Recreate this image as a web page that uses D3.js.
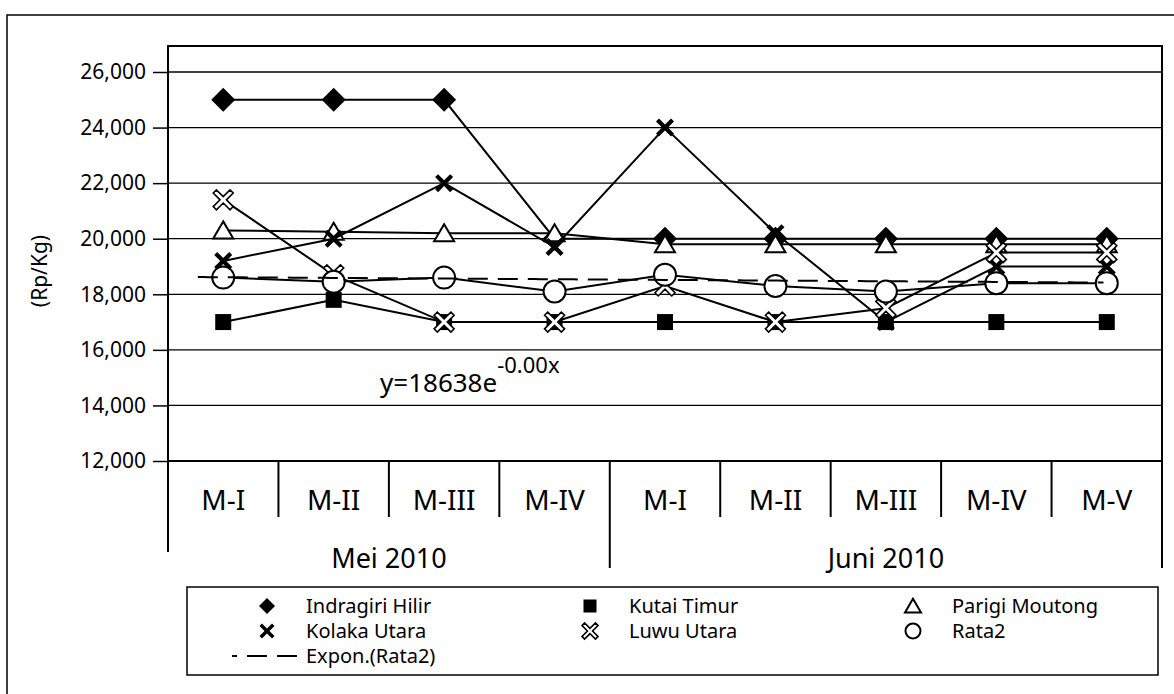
<!DOCTYPE html>
<html>
<head>
<meta charset="utf-8">
<script src="https://cdn.jsdelivr.net/npm/d3@7"></script>
<style>
  html, body { margin: 0; padding: 0; background: #fff; }
  svg { display: block; font-family: "Noto Sans", "Open Sans", sans-serif; }
</style>
</head>
<body>
<svg id="chart" width="1174" height="694"></svg>
<script>
// Weekly price observations (Rp/Kg), May–June 2010
const categories = ["M-I", "M-II", "M-III", "M-IV", "M-I", "M-II", "M-III", "M-IV", "M-V"];
const groups = [
  { name: "Mei 2010", start: 0, end: 4 },
  { name: "Juni 2010", start: 4, end: 9 }
];
const indragiriHilir = [25000, 25000, 25000, 20000, 20000, 20000, 20000, 20000, 20000];
const kutaiTimur     = [17000, 17800, 17000, 17000, 17000, 17000, 17000, 17000, 17000];
const parigiMoutong  = [20300, 20250, 20200, 20200, 19800, 19800, 19800, 19800, 19800];
const kolakaUtara    = [19200, 20000, 22000, 19700, 24000, 20200, 17000, 19000, 19000];
const luwuUtara      = [21400, 18700, 17000, 17000, 18300, 17000, 17500, 19500, 19500];
const rata2          = [18600, 18450, 18600, 18100, 18700, 18300, 18100, 18400, 18400];
const yTicks = [12000, 14000, 16000, 18000, 20000, 22000, 24000, 26000];
// Exponential trend of Rata2: y = a * e^(b x)
const trendA = 18638;
const trendB = -0.0013;

const svg = d3.select("#chart");
const plot = { left: 168, right: 1162, top: 46, bottom: 461 };

const x = d3.scaleBand().domain(d3.range(categories.length)).range([plot.left, plot.right]).padding(0);
const xc = i => x(i) + x.bandwidth() / 2;
const xNum = d3.scaleLinear().domain([0.5, categories.length + 0.5]).range([plot.left, plot.right]);
const y = d3.scaleLinear().domain([12000, 26000]).range([461, 72]);

// outer frame
svg.append("path").attr("d", "M7,700V15H1180").attr("fill", "none").attr("stroke", "#000").attr("stroke-width", 1.5);

// gridlines
svg.append("g").selectAll("line").data(yTicks.slice(1)).join("line")
  .attr("x1", plot.left).attr("x2", plot.right)
  .attr("y1", d => y(d)).attr("y2", d => y(d))
  .attr("stroke", "#000").attr("stroke-width", 1.3);

// plot frame
svg.append("rect").attr("x", plot.left).attr("y", plot.top)
  .attr("width", plot.right - plot.left).attr("height", plot.bottom - plot.top)
  .attr("fill", "none").attr("stroke", "#000").attr("stroke-width", 2);

// y axis
const yAxis = d3.axisLeft(y).tickValues(yTicks).tickFormat(d3.format(",")).tickSize(15).tickPadding(7);
const yg = svg.append("g").attr("transform", `translate(${plot.left},0)`).call(yAxis);
yg.select(".domain").remove();
yg.selectAll(".tick line").attr("stroke", "#000").attr("stroke-width", 1.5);
yg.selectAll(".tick text").attr("fill", "#000").attr("font-size", 21).attr("font-family", "Noto Sans");

svg.append("text").attr("transform", "translate(47,271) rotate(-90)")
  .attr("text-anchor", "middle").attr("font-size", 21).text("(Rp/Kg)");

// category axis (two levels)
const axisG = svg.append("g").attr("stroke", "#000").attr("stroke-width", 2);
d3.range(1, categories.length).forEach(i => {
  const isGroupEdge = groups.some(g => g.start === i);
  axisG.append("line").attr("x1", x(i)).attr("x2", x(i))
    .attr("y1", plot.bottom).attr("y2", isGroupEdge ? 568 : 517);
});
axisG.append("line").attr("x1", plot.left).attr("x2", plot.left).attr("y1", plot.bottom).attr("y2", 552);
axisG.append("line").attr("x1", plot.right).attr("x2", plot.right).attr("y1", plot.bottom).attr("y2", 568);

svg.append("g").selectAll("text").data(categories).join("text")
  .attr("x", (d, i) => xc(i)).attr("y", 510)
  .attr("text-anchor", "middle").attr("font-size", 28).text(d => d);

svg.append("g").selectAll("text").data(groups).join("text")
  .attr("x", g => (x(g.start) + x(g.end - 1) + x.bandwidth()) / 2).attr("y", 568)
  .attr("text-anchor", "middle").attr("font-size", 27).text(g => g.name);

// marker shapes
function xPath(a, t) {
  return `M${-a},${-a + t}L${-a + t},${-a}L0,${-t}L${a - t},${-a}L${a},${-a + t}L${t},0` +
         `L${a},${a - t}L${a - t},${a}L0,${t}L${-a + t},${a}L${-a},${a - t}L${-t},0Z`;
}
const markers = {
  diamond: (g, s) => g.append("path").attr("d", `M0,${-s}L${s},0L0,${s}L${-s},0Z`).attr("fill", "#000"),
  square: (g, s) => g.append("rect").attr("x", -s).attr("y", -s).attr("width", 2 * s).attr("height", 2 * s).attr("fill", "#000"),
  triangle: (g, s) => g.append("path").attr("d", `M0,${-s * 0.9}L${s},${s * 0.8}L${-s},${s * 0.8}Z`)
    .attr("fill", "#fff").attr("stroke", "#000").attr("stroke-width", 2),
  boldX: (g, s) => g.append("path").attr("d", xPath(s, s * 0.33)).attr("fill", "#000"),
  hollowX: (g, s) => g.append("path").attr("d", xPath(s, s * 0.32))
    .attr("fill", "#fff").attr("stroke", "#000").attr("stroke-width", 1.6),
  circle: (g, s) => g.append("circle").attr("r", s).attr("fill", "#fff").attr("stroke", "#000").attr("stroke-width", 2)
};

const series = [
  { name: "Indragiri Hilir", values: indragiriHilir, marker: "diamond", size: 12, legendSize: 8 },
  { name: "Kutai Timur", values: kutaiTimur, marker: "square", size: 8, legendSize: 6.5 },
  { name: "Parigi Moutong", values: parigiMoutong, marker: "triangle", size: 10, legendSize: 8 },
  { name: "Kolaka Utara", values: kolakaUtara, marker: "boldX", size: 9, legendSize: 7.5 },
  { name: "Luwu Utara", values: luwuUtara, marker: "hollowX", size: 10, legendSize: 8 },
  { name: "Rata2", values: rata2, marker: "circle", size: 11, legendSize: 7.5 }
];

const line = d3.line().x((d, i) => xc(i)).y(d => y(d));

// trendline of Rata2
const trendX = d3.range(0.77, categories.length + 0.001, 0.05);
const trendLine = d3.line().x(t => xNum(t)).y(t => y(trendA * Math.exp(trendB * t)));

series.forEach((s, k) => {
  const g = svg.append("g");
  g.append("path").attr("d", line(s.values)).attr("fill", "none")
    .attr("stroke", "#000").attr("stroke-width", 2);
  s.values.forEach((v, i) => {
    const m = g.append("g").attr("transform", `translate(${xc(i)},${y(v)})`);
    markers[s.marker](m, s.size);
  });
  if (s.name === "Rata2") {
    svg.append("path").attr("d", trendLine(trendX)).attr("fill", "none")
      .attr("stroke", "#000").attr("stroke-width", 2).attr("stroke-dasharray", "20,10");
  }
});

// trend equation
const eq = svg.append("text").attr("x", 380).attr("y", 392).attr("font-size", 26);
eq.append("tspan").text("y=18638e");
eq.append("tspan").attr("font-size", 22).attr("dy", -19).text("-0.00x");

// legend
const legend = svg.append("g");
legend.append("rect").attr("x", 187).attr("y", 587).attr("width", 971).attr("height", 88)
  .attr("fill", "#fff").attr("stroke", "#000").attr("stroke-width", 1.5);
const colMarker = [267, 590, 913];
const rowY = [606, 631, 656];
const textOffset = 39;
series.forEach((s, k) => {
  const col = k % 3, row = Math.floor(k / 3);
  const m = legend.append("g").attr("transform", `translate(${colMarker[col]},${rowY[row]})`);
  markers[s.marker](m, s.legendSize);
  legend.append("text").attr("x", colMarker[col] + textOffset).attr("y", rowY[row] + 7)
    .attr("font-size", 20).text(s.name);
});
legend.append("line").attr("x1", 232).attr("x2", 300).attr("y1", rowY[2]).attr("y2", rowY[2])
  .attr("stroke", "#000").attr("stroke-width", 2).attr("stroke-dasharray", "20,10").attr("stroke-dashoffset", 15);
legend.append("text").attr("x", colMarker[0] + textOffset).attr("y", rowY[2] + 7)
  .attr("font-size", 20).text("Expon.(Rata2)");
</script>
</body>
</html>
